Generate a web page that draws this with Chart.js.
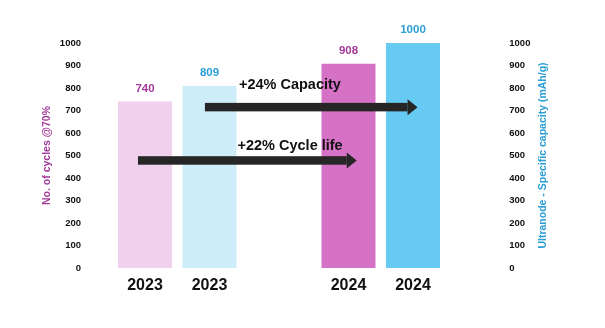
<!DOCTYPE html>
<html lang="en">
<head>
  <meta charset="UTF-8">
  <title>Ultranode cycles and capacity</title>
  <script src="https://cdn.jsdelivr.net/npm/chart.js"></script>
  <style>
    html, body { margin: 0; padding: 0; background: #fff; }
    #wrap { width: 605px; height: 328px; position: relative; }
  </style>
</head>
<body>
  <div id="wrap">
    <canvas id="chart"></canvas>
  </div>

  <script>
    // Chart data
    const years = ['2023', '2024'];
    const cycles = [740, 908];
    const capacity = [809, 1000];
    const cycleColors = ['#f0d0ed', '#d672c6'];
    const capacityColors = ['#cdedf9', '#66caf2'];

    // Arrows: from / to on the category scale, level on the value scale
    const arrowLabels = ['+24% Capacity', '+22% Cycle life'];
    const arrowFrom = [0.136, -0.193];
    const arrowTo = [1.181, 0.882];
    const arrowLevel = [715, 478];
    const labelX = [0.303, 0.296];
    const labelLevel = [795, 524];

    const FONT = '"Liberation Sans", Arial, sans-serif';
    const PURPLE = '#a3399b';
    const BLUE = '#2a9fd6';

    // Value labels above bars, year labels below each bar
    const barLabels = {
      id: 'barLabels',
      afterDatasetsDraw(chart) {
        const ctx = chart.ctx;
        ctx.save();
        ctx.textAlign = 'center';
        ctx.textBaseline = 'middle';
        chart.data.datasets.forEach((ds, i) => {
          chart.getDatasetMeta(i).data.forEach((bar, j) => {
            ctx.font = 'bold 11.5px ' + FONT;
            ctx.fillStyle = i === 0 ? PURPLE : BLUE;
            ctx.fillText(ds.data[j], bar.x, bar.y - 13);
            ctx.font = 'bold 16px ' + FONT;
            ctx.fillStyle = '#111';
            ctx.fillText(years[j], bar.x, chart.chartArea.bottom + 18);
          });
        });
        ctx.restore();
      }
    };

    // Axis titles (both read bottom to top)
    const axisTitles = {
      id: 'axisTitles',
      afterDraw(chart) {
        const ctx = chart.ctx;
        const area = chart.chartArea;
        const cy = (area.top + area.bottom) / 2;
        ctx.save();
        ctx.font = 'bold 10.5px ' + FONT;
        ctx.textAlign = 'center';
        ctx.textBaseline = 'middle';
        [[area.left - 28, 'No. of cycles @70%', PURPLE],
         [area.right + 61, 'Ultranode - Specific capacity (mAh/g)', BLUE]].forEach(t => {
          ctx.save();
          ctx.translate(t[0], cy);
          ctx.rotate(-Math.PI / 2);
          ctx.fillStyle = t[2];
          ctx.fillText(t[1], 0, 0);
          ctx.restore();
        });
        ctx.restore();
      }
    };

    // Left tick labels sit a little inside the plot, widen the label box
    const leftAxisBox = {
      id: 'leftAxisBox',
      afterLayout(chart) {
        chart.scales.y.right += 10;
      }
    };

    // Growth arrows with labels
    const arrows = {
      id: 'arrows',
      afterDatasetsDraw(chart) {
        const ctx = chart.ctx;
        const xs = chart.scales.x;
        const ys = chart.scales.y;
        ctx.save();
        arrowLabels.forEach((label, i) => {
          const x0 = xs.getPixelForValue(arrowFrom[i]);
          const x1 = xs.getPixelForValue(arrowTo[i]);
          const y = ys.getPixelForValue(arrowLevel[i]);
          const shaft = 8.5;
          const head = 16;
          const headLen = 10;
          ctx.fillStyle = '#262626';
          ctx.fillRect(x0, y - shaft / 2, x1 - headLen - x0, shaft);
          ctx.beginPath();
          ctx.moveTo(x1 - headLen, y - head / 2);
          ctx.lineTo(x1, y);
          ctx.lineTo(x1 - headLen, y + head / 2);
          ctx.closePath();
          ctx.fill();

          ctx.font = 'bold 14.5px ' + FONT;
          ctx.textAlign = 'left';
          ctx.textBaseline = 'alphabetic';
          ctx.fillStyle = '#111';
          ctx.fillText(label, xs.getPixelForValue(labelX[i]), ys.getPixelForValue(labelLevel[i]));
        });
        ctx.restore();
      }
    };

    new Chart(document.getElementById('chart'), {
      type: 'bar',
      data: {
        labels: years,
        datasets: [{
          label: 'No. of cycles @70%',
          data: cycles,
          backgroundColor: cycleColors,
          yAxisID: 'y'
        }, {
          label: 'Specific capacity (mAh/g)',
          data: capacity,
          backgroundColor: capacityColors,
          yAxisID: 'y2'
        }]
      },
      options: {
        responsive: true,
        maintainAspectRatio: false,
        animation: false,
        categoryPercentage: 0.634,
        barPercentage: 0.837,
        layout: { padding: { top: 43, left: 0, right: 0, bottom: 0 } },
        plugins: {
          legend: { display: false },
          tooltip: { enabled: false }
        },
        scales: {
          x: {
            grid: { display: false },
            border: { display: false },
            ticks: { display: false },
            afterFit(scale) { scale.height = 60; }
          },
          y: {
            position: 'left',
            min: 0,
            max: 1000,
            grid: { display: false, drawTicks: false },
            border: { display: false },
            ticks: {
              stepSize: 100,
              padding: 4.5,
              color: '#111',
              font: { family: FONT, weight: 'bold', size: 9.5 },
              callback: v => String(v)
            },
            afterFit(scale) { scale.width = 75.5; }
          },
          y2: {
            position: 'right',
            min: 0,
            max: 1000,
            grid: { display: false, drawTicks: false },
            border: { display: false },
            ticks: {
              stepSize: 100,
              padding: 26.8,
              color: '#111',
              font: { family: FONT, weight: 'bold', size: 9.5 },
              callback: v => String(v)
            },
            afterFit(scale) { scale.width = 122.5; }
          }
        }
      },
      plugins: [leftAxisBox, barLabels, arrows, axisTitles]
    });
  </script>
</body>
</html>
